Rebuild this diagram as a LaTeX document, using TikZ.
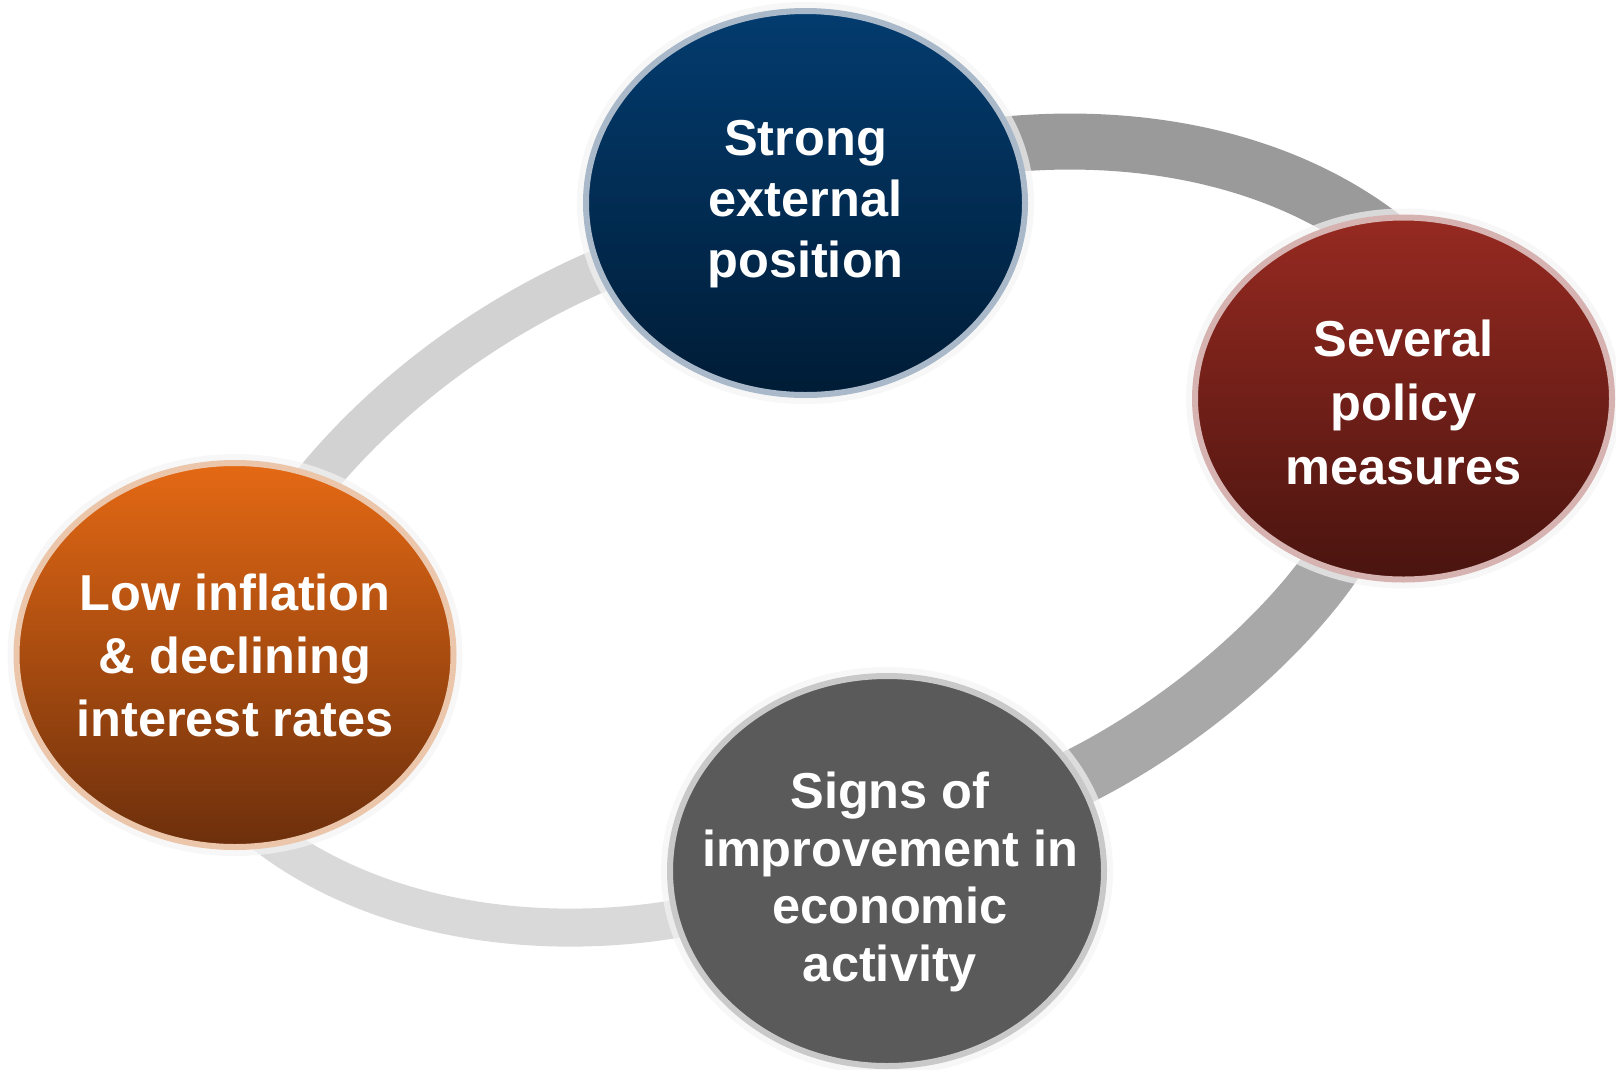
\documentclass[tikz,border=0pt]{standalone}
\usepackage{fontspec}
\setmainfont{Liberation Sans}
\usetikzlibrary{shapes.geometric}
\definecolor{bltop}{HTML}{033C6F}
\definecolor{blbot}{HTML}{001C36}
\definecolor{blring}{HTML}{A9B9C9}
\definecolor{rdtop}{HTML}{962A21}
\definecolor{rdbot}{HTML}{4A140F}
\definecolor{rdring}{HTML}{D6B2B0}
\definecolor{ortop}{HTML}{E56914}
\definecolor{orbot}{HTML}{6C2F0C}
\definecolor{orring}{HTML}{EBC6AB}
\definecolor{gyfill}{HTML}{5A5A5A}
\definecolor{gyring}{HTML}{C9C9C9}
\definecolor{halo}{HTML}{F4F4F4}
\definecolor{bandA}{HTML}{9A9A9A}
\definecolor{bandB}{HTML}{A8A8A8}
\definecolor{bandC}{HTML}{D9D9D9}
\definecolor{bandD}{HTML}{D2D2D2}
\pgfdeclarelayer{back}
\pgfdeclarelayer{bg}
\pgfsetlayers{back,bg,main}
\begin{document}
\begin{tikzpicture}[x=1pt,y=-1pt,
  bubble/.style={ellipse, inner sep=0pt, outer sep=0pt, line width=6pt,
    preaction={draw=halo, draw opacity=0.7, line width=18pt}},
  lbl/.style={text=white, align=center, inner sep=0pt,
    font=\bfseries\fontsize{50.5pt}{#1}\selectfont},
  lbl/.default=61pt,
  band/.style={line width=#1, line cap=butt, shorten <=-30pt, shorten >=-30pt},
]
\begin{pgfonlayer}{back}
\fill[white] (0,0) rectangle (1616,1069);
\end{pgfonlayer}
\useasboundingbox (0,0) rectangle (1616,1069);

\node[bubble, minimum width=439pt, minimum height=384pt, draw=blring,
  top color=bltop, bottom color=blbot] (blue) at (805.5,203) {};
\node[bubble, minimum width=417pt, minimum height=362pt, draw=rdring,
  top color=rdtop, bottom color=rdbot] (red) at (1403.5,398.5) {};
\node[bubble, minimum width=437pt, minimum height=384pt, draw=orring,
  top color=ortop, bottom color=orbot] (orange) at (235,655) {};
\node[bubble, minimum width=434pt, minimum height=390pt, draw=gyring,
  fill=gyfill] (grey) at (887,871) {};

\node[lbl=61pt] (bluet) at ([yshift=-1pt]blue.center) {Strong\\external\\position};
\node[lbl=64pt] (redt) at ([yshift=-4pt]red.center) {Several\\policy\\measures};
\node[lbl=63pt] (oranget) at (orange.center) {Low inflation\\\& declining\\interest rates};
\node[lbl=57.5pt] (greyt) at ([yshift=-11pt,xshift=3pt]grey.center) {Signs of\\improvement in\\economic\\activity};

\begin{pgfonlayer}{bg}
\draw[band=56pt, draw=bandA] (blue.16) .. controls (1140,128) and (1285,160) .. (red.103);
\draw[band=58pt, draw=bandB] (red.247) .. controls (1295,630) and (1175,735) .. (grey.26);
\draw[band=38pt, draw=bandC] (grey.193) .. controls (560,945) and (375,928) .. (orange.282);
\draw[band=43pt, draw=bandD] (orange.65) .. controls (375,402) and (490,312) .. (blue.198);
\end{pgfonlayer}
\end{tikzpicture}
\end{document}
